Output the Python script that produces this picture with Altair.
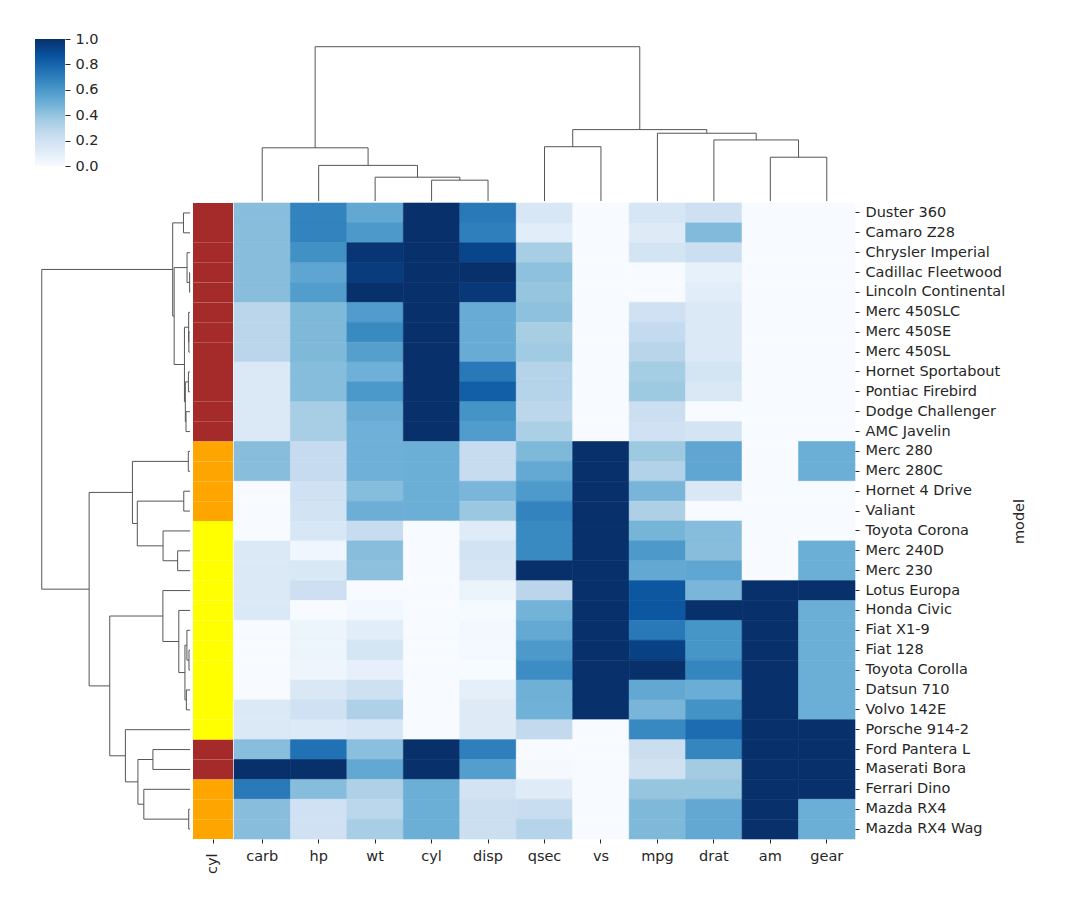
import altair as alt
import numpy as np
import pandas as pd

# ---------------- data (mtcars) ----------------
models = ["Mazda RX4", "Mazda RX4 Wag", "Datsun 710", "Hornet 4 Drive", "Hornet Sportabout",
          "Valiant", "Duster 360", "Merc 240D", "Merc 230", "Merc 280", "Merc 280C",
          "Merc 450SE", "Merc 450SL", "Merc 450SLC", "Cadillac Fleetwood", "Lincoln Continental",
          "Chrysler Imperial", "Fiat 128", "Honda Civic", "Toyota Corolla", "Toyota Corona",
          "Dodge Challenger", "AMC Javelin", "Camaro Z28", "Pontiac Firebird", "Fiat X1-9",
          "Porsche 914-2", "Lotus Europa", "Ford Pantera L", "Ferrari Dino", "Maserati Bora",
          "Volvo 142E"]
mpg = [21.0, 21.0, 22.8, 21.4, 18.7, 18.1, 14.3, 24.4, 22.8, 19.2, 17.8, 16.4, 17.3, 15.2, 10.4, 10.4,
       14.7, 32.4, 30.4, 33.9, 21.5, 15.5, 15.2, 13.3, 19.2, 27.3, 26.0, 30.4, 15.8, 19.7, 15.0, 21.4]
cyl = [6, 6, 4, 6, 8, 6, 8, 4, 4, 6, 6, 8, 8, 8, 8, 8, 8, 4, 4, 4, 4, 8, 8, 8, 8, 4, 4, 4, 8, 6, 8, 4]
disp = [160.0, 160.0, 108.0, 258.0, 360.0, 225.0, 360.0, 146.7, 140.8, 167.6, 167.6, 275.8, 275.8,
        275.8, 472.0, 460.0, 440.0, 78.7, 75.7, 71.1, 120.1, 318.0, 304.0, 350.0, 400.0, 79.0,
        120.3, 95.1, 351.0, 145.0, 301.0, 121.0]
hp = [110, 110, 93, 110, 175, 105, 245, 62, 95, 123, 123, 180, 180, 180, 205, 215, 230, 66, 52, 65,
      97, 150, 150, 245, 175, 66, 91, 113, 264, 175, 335, 109]
drat = [3.90, 3.90, 3.85, 3.08, 3.15, 2.76, 3.21, 3.69, 3.92, 3.92, 3.92, 3.07, 3.07, 3.07, 2.93, 3.00,
        3.23, 4.08, 4.93, 4.22, 3.70, 2.76, 3.15, 3.73, 3.08, 4.08, 4.43, 3.77, 4.22, 3.62, 3.54, 4.11]
wt = [2.620, 2.875, 2.320, 3.215, 3.440, 3.460, 3.570, 3.190, 3.150, 3.440, 3.440, 4.070, 3.730, 3.780,
      5.250, 5.424, 5.345, 2.200, 1.615, 1.835, 2.465, 3.520, 3.435, 3.840, 3.845, 1.935, 2.140, 1.513,
      3.170, 2.770, 3.570, 2.780]
qsec = [16.46, 17.02, 18.61, 19.44, 17.02, 20.22, 15.84, 20.00, 22.90, 18.30, 18.90, 17.40, 17.60,
        18.00, 17.98, 17.82, 17.42, 19.47, 18.52, 19.90, 20.01, 16.87, 17.30, 15.41, 17.05, 18.90,
        16.70, 16.90, 14.50, 15.50, 14.60, 18.60]
vs = [0, 0, 1, 1, 0, 1, 0, 1, 1, 1, 1, 0, 0, 0, 0, 0, 0, 1, 1, 1, 1, 0, 0, 0, 0, 1, 0, 1, 0, 0, 0, 1]
am = [1, 1, 1, 0, 0, 0, 0, 0, 0, 0, 0, 0, 0, 0, 0, 0, 0, 1, 1, 1, 0, 0, 0, 0, 0, 1, 1, 1, 1, 1, 1, 1]
gear = [4, 4, 4, 3, 3, 3, 3, 4, 4, 4, 4, 3, 3, 3, 3, 3, 3, 4, 4, 4, 3, 3, 3, 3, 3, 4, 5, 5, 5, 5, 5, 4]
carb = [4, 4, 1, 1, 2, 1, 4, 2, 2, 4, 4, 3, 3, 3, 4, 4, 4, 1, 2, 1, 1, 2, 2, 4, 2, 1, 2, 2, 4, 6, 8, 2]

# display order
row_order = ["Duster 360", "Camaro Z28", "Chrysler Imperial", "Cadillac Fleetwood",
             "Lincoln Continental", "Merc 450SLC", "Merc 450SE", "Merc 450SL", "Hornet Sportabout",
             "Pontiac Firebird", "Dodge Challenger", "AMC Javelin", "Merc 280", "Merc 280C",
             "Hornet 4 Drive", "Valiant", "Toyota Corona", "Merc 240D", "Merc 230", "Lotus Europa",
             "Honda Civic", "Fiat X1-9", "Fiat 128", "Toyota Corolla", "Datsun 710", "Volvo 142E",
             "Porsche 914-2", "Ford Pantera L", "Maserati Bora", "Ferrari Dino", "Mazda RX4",
             "Mazda RX4 Wag"]
col_order = ["carb", "hp", "wt", "cyl", "disp", "qsec", "vs", "mpg", "drat", "am", "gear"]

cyl_levels = ["8", "6", "4"]
cyl_colors = ["#a52a2a", "#ffa500", "#ffff00"]
blues = ["#f7fbff", "#deebf7", "#c6dbef", "#9ecae1", "#6baed6", "#4292c6", "#2171b5", "#08519c", "#08306b"]
cbar_ticks = [0.0, 0.2, 0.4, 0.6, 0.8, 1.0]

TXT = "#262626"
LINE = "#555555"
FONT = "DejaVu Sans"

# ---------------- standard scale per column ----------------
raw = pd.DataFrame({"mpg": mpg, "cyl": cyl, "disp": disp, "hp": hp, "drat": drat, "wt": wt,
                    "qsec": qsec, "vs": vs, "am": am, "gear": gear, "carb": carb}, index=models)
std = (raw - raw.min()) / (raw.max() - raw.min())
std = std.loc[row_order, col_order]

heat_df = std.reset_index().rename(columns={"index": "model"}).melt(
    id_vars="model", var_name="variable", value_name="value")
strip_df = pd.DataFrame({"model": row_order,
                         "cyl": [str(raw.loc[m, "cyl"]) for m in row_order],
                         "lab": ["cyl"] * len(row_order)})


# ---------------- single-linkage, correlation-distance dendrograms ----------------
def single_linkage_corr(X):
    n = X.shape[0]
    Xc = X - X.mean(axis=1, keepdims=True)
    nrm = np.sqrt((Xc ** 2).sum(axis=1))
    D = 1.0 - (Xc @ Xc.T) / np.outer(nrm, nrm)
    D = np.clip(D, 0, None)
    np.fill_diagonal(D, 0.0)
    members = {i: [i] for i in range(n)}
    height = {i: 0.0 for i in range(n)}
    children = {}
    active = list(range(n))
    nxt = n
    while len(active) > 1:
        best = None
        for i in range(len(active)):
            for j in range(i + 1, len(active)):
                a, b = active[i], active[j]
                d = D[np.ix_(members[a], members[b])].min()
                if best is None or d < best[0] - 1e-12:
                    best = (d, a, b)
        d, a, b = best
        members[nxt] = members[a] + members[b]
        height[nxt] = d
        children[nxt] = (a, b)
        active = [k for k in active if k not in (a, b)] + [nxt]
        nxt += 1
    return children, height, nxt - 1


def dendro_segments(X):
    children, height, root = single_linkage_corr(X)
    pos = {i: i + 0.5 for i in range(X.shape[0])}
    for node in sorted(children):
        a, b = children[node]
        pos[node] = (pos[a] + pos[b]) / 2
    segs = []
    for node in sorted(children):
        a, b = children[node]
        h = height[node]
        segs.append((pos[a], height[a], pos[a], h))
        segs.append((pos[b], height[b], pos[b], h))
        segs.append((pos[a], h, pos[b], h))
    return pd.DataFrame(segs, columns=["p1", "h1", "p2", "h2"]), height[root]


row_segs, row_max = dendro_segments(std.values)
col_segs, col_max = dendro_segments(std.values.T)

n_rows = len(row_order)
n_cols = len(col_order)

HM_W, HM_H = 621, 636
ROWD_W, STRIP_W = 157, 40
TOP_H = 162
FS = 14.5

blues_scale = alt.Scale(domain=[i / (len(blues) - 1) for i in range(len(blues))],
                        range=blues, interpolate="rgb")

# ---------------- heatmap ----------------
heat = alt.Chart(heat_df).mark_rect(strokeWidth=0.6).encode(
    x=alt.X("variable:N", sort=col_order, scale=alt.Scale(paddingInner=0, paddingOuter=0),
            axis=alt.Axis(title=None, labelAngle=0, domain=False, tickSize=4, labelPadding=6)),
    y=alt.Y("model:N", sort=row_order, scale=alt.Scale(paddingInner=0, paddingOuter=0),
            axis=alt.Axis(orient="right", title="model", titleAngle=270, titlePadding=22,
                          domain=False, tickSize=4, labelPadding=6)),
    color=alt.Color("value:Q", scale=blues_scale, legend=None),
    stroke=alt.Stroke("value:Q", scale=blues_scale, legend=None),
).properties(width=HM_W, height=HM_H)

# ---------------- cyl colour strip ----------------
strip = alt.Chart(strip_df).mark_rect().encode(
    x=alt.X("lab:N", scale=alt.Scale(paddingInner=0, paddingOuter=0),
            axis=alt.Axis(title=None, labelAngle=270, domain=False, tickSize=4, labelPadding=10)),
    y=alt.Y("model:N", sort=row_order, scale=alt.Scale(paddingInner=0, paddingOuter=0), axis=None),
    color=alt.Color("cyl:N", scale=alt.Scale(domain=cyl_levels, range=cyl_colors), legend=None),
).properties(width=STRIP_W, height=HM_H)

# ---------------- row dendrogram ----------------
rowdend = alt.Chart(row_segs).mark_rule(color=LINE, strokeWidth=1).encode(
    x=alt.X("h1:Q", scale=alt.Scale(domain=[-0.0136 * row_max, 1.0455 * row_max], reverse=True,
                                    nice=False, zero=False), axis=None),
    x2="h2:Q",
    y=alt.Y("p1:Q", scale=alt.Scale(domain=[0, n_rows], reverse=True, nice=False, zero=False),
            axis=None),
    y2="p2:Q",
).properties(width=ROWD_W, height=HM_H)

# ---------------- column dendrogram ----------------
coldend = alt.Chart(col_segs).mark_rule(color=LINE, strokeWidth=1).encode(
    x=alt.X("p1:Q", scale=alt.Scale(domain=[0, n_cols], nice=False, zero=False), axis=None),
    x2="p2:Q",
    y=alt.Y("h1:Q", scale=alt.Scale(domain=[0, 1.05 * col_max], nice=False, zero=False), axis=None),
    y2="h2:Q",
).properties(width=HM_W, height=TOP_H)

# ---------------- colour bar ----------------
cb_df = pd.DataFrame({"lo": [0.0], "hi": [1.0]})
gradient = alt.LinearGradient(
    gradient="linear",
    stops=[alt.GradientStop(offset=i / (len(blues) - 1), color=c) for i, c in enumerate(blues)],
    x1=0, x2=0, y1=1, y2=0)
colorbar = alt.Chart(cb_df).mark_rect(color=gradient).encode(
    y=alt.Y("lo:Q", scale=alt.Scale(domain=[0, 1], nice=False, zero=False),
            axis=alt.Axis(orient="right", values=cbar_ticks, format=".1f", title=None,
                          domain=False, tickSize=5, labelPadding=5)),
    y2="hi:Q",
).properties(width=30, height=127)

placeholder = alt.Chart(pd.DataFrame({"v": [0]})).mark_point(opacity=0).encode(
    x=alt.X("v:Q", axis=None), y=alt.Y("v:Q", axis=None)
).properties(width=STRIP_W, height=1)

chart = alt.ConcatChart(
    concat=[colorbar, placeholder, coldend, rowdend, strip, heat],
    columns=3,
    spacing={"row": 2, "column": 1},
    bounds="flush",
    align="each",
).properties(
    padding={"left": 35, "top": 31, "right": 20, "bottom": 20},
    background="white",
).configure_view(
    stroke=None
).configure_axis(
    labelFont=FONT, titleFont=FONT, labelFontSize=FS, titleFontSize=FS,
    labelColor=TXT, titleColor=TXT, tickColor=TXT, titleFontWeight="normal",
    grid=False,
)

chart.save("out.html", embed_options={"renderer": "svg", "actions": False})
